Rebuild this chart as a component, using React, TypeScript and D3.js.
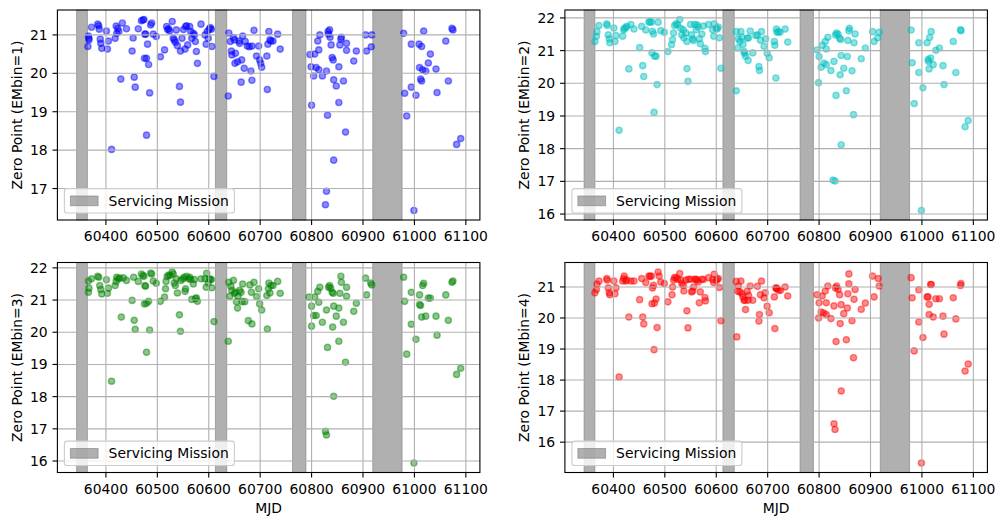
import React from 'react';
import * as d3 from 'd3';

type Pt = [number, number];

const xTickValues = [60400, 60500, 60600, 60700, 60800, 60900, 61000, 61100];
const servicingStart = [60343, 60613, 60763, 60919];
const servicingEnd = [60364, 60635, 60789, 60976];
const yTicksEMbin1 = [17, 18, 19, 20, 21];
const yTicksEMbin2 = [16, 17, 18, 19, 20, 21, 22];
const yTicksEMbin3 = [16, 17, 18, 19, 20, 21, 22];
const yTicksEMbin4 = [16, 17, 18, 19, 20, 21];

const zpEMbin1: Pt[] = [
[60366,20.97],[60367,20.91],[60365,20.70],[60367,20.87],[60372,21.20],[60384,21.28],[60386,21.24],[60387,21.15],[60389,20.89],[60390,20.78],[60392,20.65],[60401,21.10],[60405,20.84],[60403,20.63],[60411,18.02],[60418,20.91],[60420,21.23],[60421,21.04],[60423,21.17],[60425,21.09],[60429,19.85],[60432,21.31],[60440,21.16],[60451,20.58],[60453,20.92],[60455,19.90],[60457,19.64],[60463,21.16],[60469,21.37],[60472,21.39],[60474,21.40],[60476,21.02],[60477,21.02],[60475,20.39],[60479,20.39],[60481,20.76],[60483,20.23],[60485,19.49],[60479,18.39],[60487,21.26],[60489,21.31],[60492,21.02],[60498,20.96],[60506,20.43],[60514,20.61],[60518,21.22],[60520,21.14],[60522,21.16],[60524,21.10],[60529,21.35],[60531,20.91],[60533,20.87],[60535,20.81],[60537,21.13],[60539,20.72],[60543,19.66],[60545,19.25],[60545,20.58],[60548,20.91],[60551,21.14],[60554,20.63],[60555,21.22],[60557,21.24],[60559,20.74],[60563,21.22],[60565,21.09],[60567,20.91],[60570,21.04],[60572,21.00],[60574,20.83],[60576,20.57],[60578,20.26],[60585,21.28],[60593,21.00],[60595,20.76],[60597,21.09],[60599,20.91],[60601,21.15],[60603,21.19],[60605,21.15],[60606,20.70],[60610,19.92],
[60638,19.41],[60639,21.05],[60642,20.83],[60644,20.58],[60645,20.48],[60648,20.93],[60650,20.87],[60651,20.26],[60652,20.52],[60656,20.30],[60659,20.84],[60660,20.78],[60663,19.77],[60664,20.35],[60666,20.97],[60669,20.13],[60671,20.83],[60675,20.71],[60679,20.69],[60682,20.06],[60684,19.82],[60684,20.71],[60688,21.12],[60693,20.45],[60697,20.71],[60699,20.35],[60701,20.26],[60703,20.16],[60713,20.45],[60714,19.58],[60715,20.76],[60717,21.09],[60719,20.87],[60721,20.84],[60725,20.84],[60734,21.02],[60739,20.63],
[60797,20.49],[60799,20.17],[60800,19.17],[60804,19.93],[60806,20.50],[60809,20.15],[60812,20.84],[60814,20.61],[60814,20.09],[60816,21.00],[60821,19.93],[60827,16.58],[60829,16.93],[60829,20.06],[60831,18.91],[60832,21.09],[60833,21.02],[60835,21.13],[60836,20.94],[60838,20.74],[60840,20.41],[60842,20.35],[60843,17.74],[60843,19.83],[60848,19.67],[60853,20.17],[60853,19.24],[60855,20.74],[60857,20.89],[60858,20.94],[60862,19.80],[60866,18.47],[60868,20.78],[60868,20.60],[60882,20.32],[60887,20.58],[60905,21.00],[60907,20.58],[60916,20.69],[60917,21.00],
[60979,21.04],[60981,19.48],[60985,18.89],[60994,19.64],[60994,20.76],[60999,16.43],[61003,19.43],[61009,20.76],[61010,20.15],[61014,20.70],[61014,19.80],[61012,19.85],[61016,20.09],[61018,21.10],[61022,20.06],[61027,20.27],[61031,20.50],[61042,20.11],[61044,19.50],[61061,20.84],[61066,19.80],[61073,21.17],[61075,21.13],[61082,18.15],[61090,18.30]
];

const zpEMbin2: Pt[] = [
[60364,21.28],[60367,21.44],[60368,21.58],[60372,21.77],[60387,21.82],[60388,21.77],[60390,21.48],[60392,21.36],[60393,21.24],[60401,21.69],[60405,21.46],[60403,21.28],[60411,18.56],[60418,21.44],[60420,21.63],[60421,21.68],[60424,21.70],[60426,21.74],[60430,20.44],[60434,21.80],[60440,21.66],[60451,21.09],[60455,21.74],[60457,20.54],[60459,20.21],[60463,21.63],[60469,21.87],[60471,21.89],[60474,21.87],[60476,21.59],[60478,21.51],[60475,20.93],[60480,20.83],[60483,20.83],[60485,19.96],[60479,19.11],[60487,21.87],[60492,21.61],[60499,21.56],[60506,20.97],[60513,21.18],[60515,21.33],[60517,21.54],[60519,21.77],[60522,21.82],[60525,21.79],[60529,21.95],[60531,21.68],[60533,21.48],[60536,21.64],[60537,21.39],[60541,21.54],[60543,21.28],[60543,20.45],[60545,20.06],[60550,21.80],[60552,21.48],[60554,21.36],[60556,21.31],[60558,21.80],[60561,21.64],[60563,21.79],[60565,21.72],[60567,21.36],[60569,21.21],[60572,21.51],[60575,21.75],[60578,21.07],[60579,20.97],[60585,21.80],[60593,21.64],[60595,21.44],[60596,21.82],[60600,21.68],[60602,21.66],[60604,21.72],[60606,21.39],[60609,20.46],
[60639,19.77],[60639,21.58],[60642,21.08],[60643,21.36],[60646,21.28],[60648,21.58],[60650,21.41],[60652,21.19],[60654,20.97],[60655,20.92],[60657,20.83],[60660,21.38],[60662,20.70],[60663,21.39],[60666,21.60],[60671,20.93],[60677,21.46],[60680,21.48],[60683,20.51],[60684,20.39],[60686,21.32],[60688,21.58],[60693,21.13],[60696,21.36],[60699,20.92],[60703,20.78],[60713,21.28],[60714,21.16],[60716,20.16],[60717,21.66],[60718,21.56],[60721,21.58],[60724,21.56],[60734,21.66],[60739,21.26],
[60796,21.02],[60799,20.02],[60800,20.82],[60804,20.49],[60806,21.16],[60809,20.62],[60812,21.28],[60814,21.05],[60814,20.57],[60817,21.41],[60823,20.39],[60827,17.04],[60831,17.01],[60829,20.67],[60833,19.63],[60832,21.48],[60834,21.54],[60837,21.50],[60840,21.38],[60842,21.34],[60843,20.85],[60843,18.12],[60841,20.26],[60848,20.46],[60853,19.77],[60855,20.82],[60856,21.31],[60858,21.61],[60859,21.68],[60864,20.38],[60867,19.04],[60868,21.24],[60870,21.51],[60882,20.75],[60890,21.08],[60904,21.58],[60907,21.28],[60914,21.39],[60917,21.56],
[60979,21.63],[60981,20.63],[60985,19.38],[60994,21.24],[60994,20.33],[60999,16.11],[61002,19.86],[61010,21.24],[61012,20.73],[61013,20.67],[61014,20.44],[61015,21.40],[61017,20.77],[61018,21.58],[61022,20.57],[61027,21.01],[61034,21.08],[61041,20.54],[61043,19.96],[61061,21.28],[61066,20.33],[61075,21.64],[61076,21.61],[61084,18.67],[61090,18.86]
];

const zpEMbin3: Pt[] = [
[60366,21.24],[60367,21.37],[60366,21.59],[60372,21.66],[60384,21.74],[60386,21.71],[60388,21.45],[60390,21.33],[60392,21.19],[60401,21.63],[60405,21.37],[60403,21.21],[60411,18.48],[60418,21.45],[60420,21.58],[60421,21.71],[60424,21.66],[60427,21.68],[60430,20.47],[60434,21.69],[60440,21.61],[60451,20.99],[60454,21.71],[60455,20.37],[60457,20.09],[60463,21.58],[60469,21.81],[60472,21.76],[60474,21.74],[60476,21.45],[60477,21.43],[60475,20.88],[60479,20.90],[60483,20.96],[60485,20.07],[60479,19.38],[60487,21.84],[60489,21.81],[60492,21.59],[60498,21.52],[60506,20.96],[60514,21.09],[60516,21.35],[60517,21.58],[60519,21.73],[60522,21.78],[60525,21.76],[60529,21.87],[60531,21.81],[60533,21.53],[60535,21.45],[60537,21.66],[60539,21.22],[60543,20.54],[60545,20.03],[60546,21.61],[60550,21.66],[60552,21.71],[60554,21.27],[60555,21.35],[60557,21.74],[60561,21.66],[60563,21.71],[60565,21.64],[60567,21.02],[60570,21.50],[60572,21.64],[60574,21.04],[60576,21.07],[60578,20.96],[60585,21.66],[60593,21.66],[60595,21.40],[60596,21.83],[60599,21.53],[60601,21.66],[60603,21.64],[60605,21.64],[60606,21.38],[60610,20.33],
[60638,19.72],[60639,21.55],[60641,21.12],[60643,21.43],[60645,21.30],[60648,21.61],[60650,21.21],[60652,21.24],[60654,20.95],[60656,20.75],[60657,21.12],[60660,21.30],[60663,21.24],[60665,20.95],[60666,21.50],[60670,20.95],[60677,20.36],[60680,21.47],[60683,21.24],[60684,20.26],[60688,21.55],[60693,21.11],[60697,21.35],[60699,20.88],[60703,20.69],[60713,21.14],[60714,20.10],[60716,21.35],[60717,21.53],[60719,21.22],[60721,21.45],[60725,21.45],[60734,21.58],[60739,21.21],
[60795,21.09],[60800,20.81],[60800,20.19],[60804,20.52],[60806,21.09],[60809,20.52],[60812,21.27],[60814,20.93],[60816,21.40],[60821,20.31],[60827,16.92],[60829,16.81],[60829,20.69],[60831,19.53],[60833,21.40],[60835,21.45],[60837,21.37],[60840,21.24],[60842,21.21],[60843,20.81],[60843,18.01],[60841,20.16],[60848,20.50],[60853,19.72],[60853,20.75],[60855,21.21],[60857,21.74],[60858,21.55],[60862,20.31],[60866,19.07],[60868,21.40],[60868,21.12],[60882,20.65],[60887,20.90],[60905,21.68],[60907,21.16],[60915,21.53],[60917,21.47],
[60979,21.71],[60981,20.96],[60985,19.32],[60994,21.24],[60994,20.25],[60999,15.94],[61003,19.78],[61010,21.16],[61010,20.86],[61012,20.83],[61014,20.47],[61016,21.45],[61018,21.52],[61022,20.50],[61027,21.06],[61031,21.06],[61042,20.50],[61044,19.91],[61061,21.16],[61066,20.37],[61073,21.55],[61075,21.59],[61082,18.69],[61090,18.88]
];

const zpEMbin4: Pt[] = [
[60364,20.81],[60367,20.92],[60368,21.09],[60372,21.19],[60387,21.27],[60388,21.22],[60390,20.97],[60392,20.81],[60393,20.75],[60401,21.19],[60405,20.97],[60403,20.78],[60411,18.10],[60418,21.19],[60420,21.27],[60421,21.35],[60424,21.19],[60426,21.22],[60430,20.03],[60434,21.19],[60440,21.19],[60451,20.59],[60455,21.27],[60457,20.03],[60459,19.81],[60463,21.14],[60469,21.35],[60471,21.34],[60474,21.35],[60476,20.97],[60478,21.05],[60475,20.46],[60480,20.48],[60483,20.61],[60485,19.69],[60479,18.98],[60487,21.48],[60489,21.35],[60492,21.16],[60499,21.11],[60506,20.52],[60514,20.75],[60515,21.00],[60517,21.22],[60519,21.30],[60522,21.30],[60525,21.25],[60529,21.43],[60531,21.22],[60533,21.11],[60536,21.05],[60537,20.87],[60541,21.22],[60543,20.23],[60545,19.68],[60546,21.25],[60550,21.25],[60552,20.84],[60554,20.87],[60556,21.00],[60558,21.25],[60561,21.25],[60563,21.22],[60565,21.16],[60567,20.49],[60569,20.84],[60572,21.25],[60575,21.24],[60578,20.66],[60579,20.55],[60585,21.30],[60593,21.24],[60595,21.14],[60596,21.41],[60600,21.20],[60602,21.25],[60604,21.27],[60606,20.98],[60609,19.91],
[60640,19.39],[60639,21.18],[60642,20.86],[60643,21.03],[60646,20.84],[60648,21.19],[60650,20.78],[60652,20.68],[60654,20.57],[60656,20.57],[60657,20.27],[60660,20.86],[60662,20.57],[60663,20.73],[60666,21.03],[60671,20.57],[60680,21.02],[60683,19.90],[60684,20.11],[60686,20.75],[60688,21.19],[60693,20.65],[60695,20.81],[60699,20.38],[60703,20.17],[60713,20.68],[60714,19.66],[60716,20.97],[60717,20.95],[60718,20.95],[60721,20.89],[60725,20.89],[60734,21.00],[60739,20.71],
[60796,20.75],[60799,20.00],[60800,20.49],[60804,20.19],[60806,20.71],[60809,20.16],[60812,20.87],[60814,20.49],[60814,20.11],[60817,21.03],[60823,19.98],[60829,16.59],[60831,16.41],[60829,20.39],[60833,19.24],[60832,20.97],[60834,21.03],[60837,20.92],[60840,20.75],[60843,20.43],[60843,17.65],[60841,19.82],[60848,20.14],[60853,19.30],[60855,20.32],[60856,20.78],[60858,21.10],[60858,21.42],[60864,19.91],[60867,18.72],[60868,20.60],[60870,20.92],[60882,20.28],[60890,20.48],[60904,21.35],[60907,20.68],[60915,21.27],[60917,21.03],
[60979,21.30],[60981,20.65],[60985,18.94],[60994,20.91],[60994,19.87],[60999,15.33],[61002,19.37],[61010,20.68],[61012,20.68],[61014,20.44],[61014,20.11],[61017,21.08],[61018,21.08],[61022,20.03],[61027,20.62],[61034,20.62],[61041,20.06],[61043,19.48],[61061,20.65],[61066,19.97],[61075,21.05],[61076,21.11],[61084,18.29],[61090,18.52]
];

const FONT = '"DejaVu Sans", Verdana, sans-serif';
const FS = 13.9;
const GRID = '#b0b0b0';

const allX = [
  ...zpEMbin1.map(d => d[0]), ...zpEMbin2.map(d => d[0]),
  ...zpEMbin3.map(d => d[0]), ...zpEMbin4.map(d => d[0]),
  ...servicingStart, ...servicingEnd,
];
const xMin = d3.min(allX) as number;
const xMax = d3.max(allX) as number;
const xPad = (xMax - xMin) * 0.05;
const xDomain: [number, number] = [xMin - xPad, xMax + xPad];

interface PanelProps {
  left: number; top: number; width: number; height: number;
  data: Pt[]; color: string; yTicks: number[]; ylabel: string; showXLabel: boolean;
}

function Panel({ left, top, width, height, data, color, yTicks, ylabel, showXLabel }: PanelProps) {
  const x = d3.scaleLinear().domain(xDomain).range([left, left + width]);
  const ext = d3.extent(data, d => d[1]) as [number, number];
  const pad = (ext[1] - ext[0]) * 0.05;
  const y = d3.scaleLinear().domain([ext[0] - pad, ext[1] + pad]).range([top + height, top]);
  const bottom = top + height;
  const right = left + width;
  const legW = 170, legH = 24.4;
  const legX = left + 7, legY = bottom - 7 - legH;
  return (
    <g>
      {servicingStart.map((s, i) => (
        <rect key={'s' + i} x={x(s)} y={top} width={x(servicingEnd[i]) - x(s)} height={height}
          fill="#808080" fillOpacity={0.62} stroke="#808080" strokeOpacity={0.62} strokeWidth={1} />
      ))}
      {data.map((d, i) => (
        <circle key={'p' + i} cx={x(d[0])} cy={y(d[1])} r={3.1}
          fill={color} fillOpacity={0.45} stroke={color} strokeOpacity={0.45} strokeWidth={1.4} />
      ))}
      {xTickValues.map(t => (
        <line key={'gx' + t} x1={x(t)} x2={x(t)} y1={top} y2={bottom} stroke={GRID} strokeWidth={1.1} />
      ))}
      {yTicks.map(t => (
        <line key={'gy' + t} x1={left} x2={right} y1={y(t)} y2={y(t)} stroke={GRID} strokeWidth={1.1} />
      ))}
      <rect x={left} y={top} width={width} height={height} fill="none" stroke="#000" strokeWidth={1.1} />
      {xTickValues.map(t => (
        <g key={'tx' + t}>
          <line x1={x(t)} x2={x(t)} y1={bottom} y2={bottom + 4.9} stroke="#000" strokeWidth={1.1} />
          <text x={x(t)} y={bottom + 16} textAnchor="middle" dominantBaseline="central"
            fontFamily={FONT} fontSize={FS} fill="#000">{t}</text>
        </g>
      ))}
      {yTicks.map(t => (
        <g key={'ty' + t}>
          <line x1={left - 4.9} x2={left} y1={y(t)} y2={y(t)} stroke="#000" strokeWidth={1.1} />
          <text x={left - 9.7} y={y(t)} textAnchor="end" dominantBaseline="central"
            fontFamily={FONT} fontSize={FS} fill="#000">{t}</text>
        </g>
      ))}
      <text transform={`translate(${left - 40.5},${(top + bottom) / 2}) rotate(-90)`} textAnchor="middle"
        dominantBaseline="central" fontFamily={FONT} fontSize={FS} fill="#000">{ylabel}</text>
      {showXLabel && (
        <text x={(left + right) / 2} y={bottom + 35} textAnchor="middle" dominantBaseline="central"
          fontFamily={FONT} fontSize={FS} fill="#000">MJD</text>
      )}
      <rect x={legX} y={legY} width={legW} height={legH} rx={2.8} fill="#fff" fillOpacity={0.8}
        stroke="#cccccc" strokeWidth={1.1} />
      <rect x={legX + 6} y={legY + 7.4} width={27.7} height={9.7} fill="#808080" fillOpacity={0.62}
        stroke="#808080" strokeOpacity={0.62} strokeWidth={1} />
      <text x={legX + 44.2} y={legY + 12.3} dominantBaseline="central" fontFamily={FONT} fontSize={FS} fill="#000">
        Servicing Mission
      </text>
    </g>
  );
}

export default function App() {
  const w = 422.5;
  const h = 210;
  return (
    <svg width={1004} height={525} style={{ position: 'absolute', left: 0, top: 0, background: '#fff' }}>
      <rect x={0} y={0} width={1004} height={525} fill="#fff" />
      <Panel left={57.4} top={10} width={w} height={h} data={zpEMbin1} color="#0000ff"
        yTicks={yTicksEMbin1} ylabel="Zero Point (EMbin=1)" showXLabel={false} />
      <Panel left={564.9} top={10} width={w} height={h} data={zpEMbin2} color="#00bfbf"
        yTicks={yTicksEMbin2} ylabel="Zero Point (EMbin=2)" showXLabel={false} />
      <Panel left={57.4} top={262.5} width={w} height={h} data={zpEMbin3} color="#008000"
        yTicks={yTicksEMbin3} ylabel="Zero Point (EMbin=3)" showXLabel={true} />
      <Panel left={564.9} top={262.5} width={w} height={h} data={zpEMbin4} color="#ff0000"
        yTicks={yTicksEMbin4} ylabel="Zero Point (EMbin=4)" showXLabel={true} />
    </svg>
  );
}
